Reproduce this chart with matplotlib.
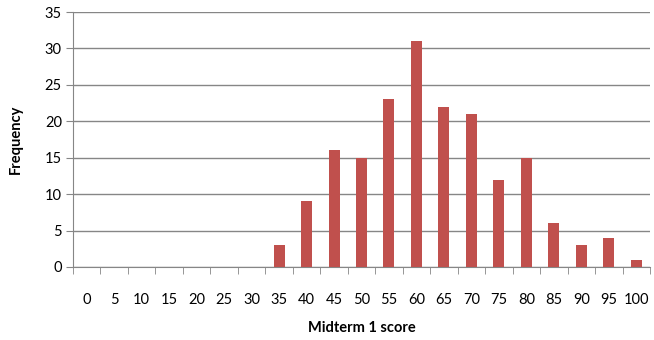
import numpy as np
import matplotlib.pyplot as plt

plt.rcParams['font.family'] = ['Lato', 'DejaVu Sans']

scores = [0, 5, 10, 15, 20, 25, 30, 35, 40, 45, 50, 55, 60, 65, 70, 75, 80, 85, 90, 95, 100]
freq = [0, 0, 0, 0, 0, 0, 0, 3, 9, 16, 15, 23, 31, 22, 21, 12, 15, 6, 3, 4, 1]

grey = '#868686'
fig = plt.figure(figsize=(6.54, 3.4), dpi=100)
ax = fig.add_axes([73 / 654, 1 - 267 / 340, (650 - 73) / 654, (267 - 12) / 340])

x = np.arange(len(scores))
ax.bar(x, freq, width=0.4, color='#C0504D', zorder=3)

ax.set_xlim(-0.5, len(scores) - 0.5)
ax.set_ylim(0, 35)
ax.set_yticks(range(0, 36, 5))
ax.set_xticks(x)
ax.set_xticklabels([str(s) for s in scores])
ax.set_xticks(np.arange(-0.5, len(scores), 1), minor=True)
ax.tick_params(axis='x', which='major', length=0, pad=19, labelsize=10.5)
ax.tick_params(axis='x', which='minor', length=5, color=grey, direction='out')
ax.tick_params(axis='y', length=5, color=grey, direction='out', labelsize=10.5, pad=3)

ax.yaxis.grid(True, color=grey, linewidth=1, zorder=0)
for s in ['top', 'right']:
    ax.spines[s].set_visible(False)
for s in ['left', 'bottom']:
    ax.spines[s].set_color(grey)

ax.set_ylabel('Frequency', fontweight='bold', fontsize=10.5, labelpad=16)
ax.set_xlabel('Midterm 1 score', fontweight='bold', fontsize=10.5, labelpad=10)

fig.savefig('out.png', dpi=100)
